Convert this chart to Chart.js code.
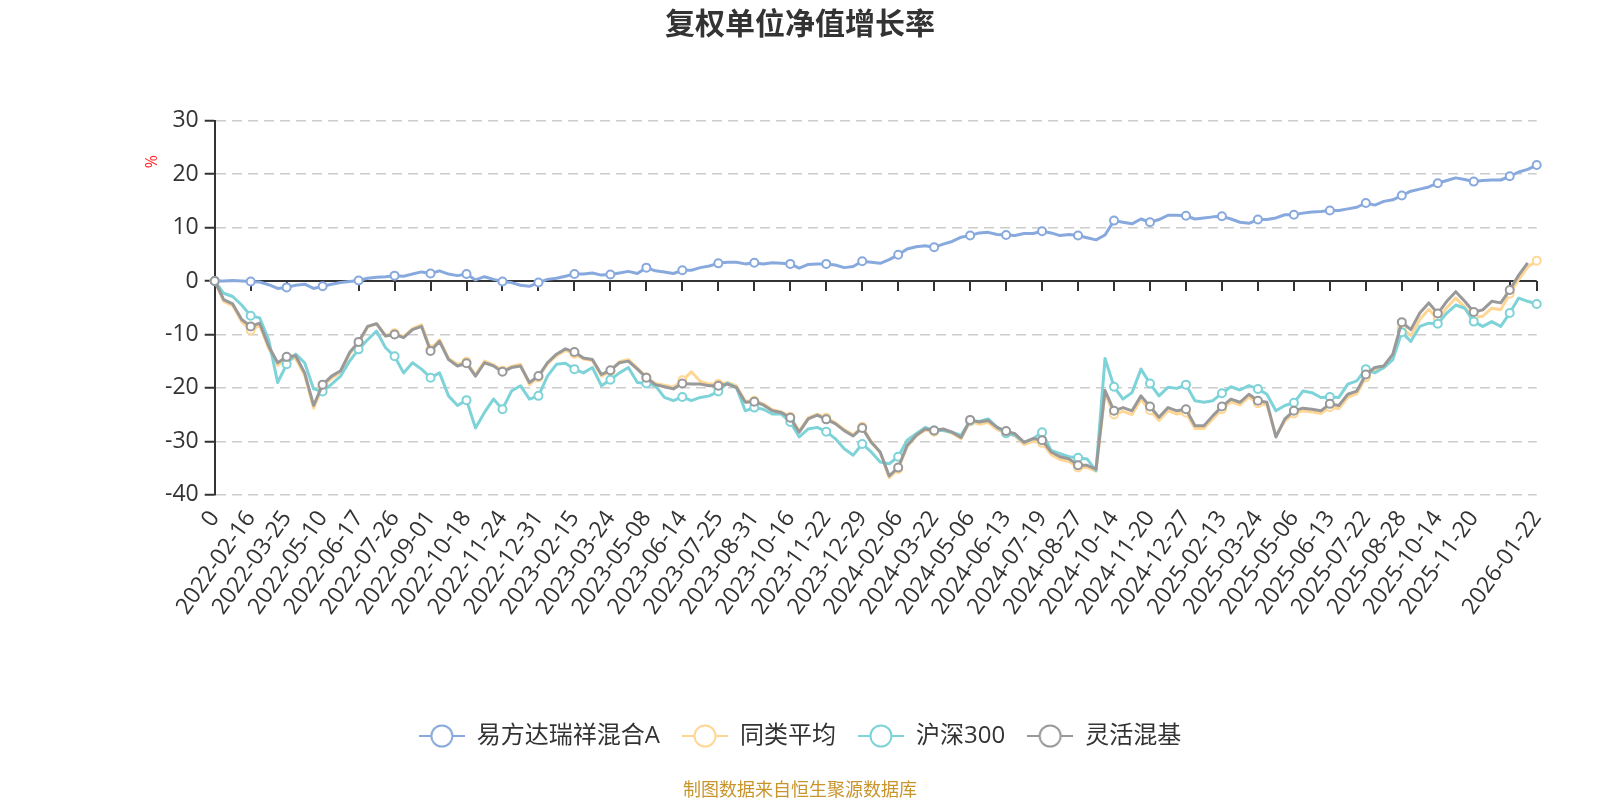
<!DOCTYPE html>
<html>
<head>
<meta charset="utf-8">
<title>复权单位净值增长率</title>
<script src="https://cdn.jsdelivr.net/npm/chart.js@4.4.1/dist/chart.umd.min.js"></script>
<style>
  html, body { margin: 0; padding: 0; background: #fff; }
  #wrap { width: 1600px; height: 800px; }
</style>
</head>
<body>
<div id="wrap"><canvas id="navChart" width="1600" height="800"></canvas></div>
<script>
// x-axis tick labels: one every 4 samples, the last one sits on the final sample
const tickLabels = [
  '0', '2022-02-16', '2022-03-25', '2022-05-10', '2022-06-17', '2022-07-26', '2022-09-01',
  '2022-10-18', '2022-11-24', '2022-12-31', '2023-02-15', '2023-03-24', '2023-05-08',
  '2023-06-14', '2023-07-25', '2023-08-31', '2023-10-16', '2023-11-22', '2023-12-29',
  '2024-02-06', '2024-03-22', '2024-05-06', '2024-06-13', '2024-07-19', '2024-08-27',
  '2024-10-14', '2024-11-20', '2024-12-27', '2025-02-13', '2025-03-24', '2025-05-06',
  '2025-06-13', '2025-07-22', '2025-08-28', '2025-10-14', '2025-11-20', ''
];
const lastLabel = '2026-01-22';

const yTicks = [-40, -30, -20, -10, 0, 10, 20, 30];

// 易方达瑞祥混合A (%)
const fundA = [
  0, 0, 0.1, 0, -0.1, -0.2, -0.7, -1.4, -1.2, -0.8,
  -0.6, -1.4, -1.0, -0.6, -0.3, -0.1, 0.1, 0.5, 0.7, 0.8,
  1.0, 0.9, 1.3, 1.7, 1.4, 1.9, 1.3, 1.0, 1.3, 0.2,
  0.8, 0.3, -0.1, -0.3, -0.8, -1.0, -0.3, 0.3, 0.5, 0.9,
  1.3, 1.3, 1.5, 1.1, 1.2, 1.5, 1.8, 1.4, 2.5, 1.9,
  1.7, 1.4, 2.0, 2.0, 2.5, 2.8, 3.3, 3.5, 3.5, 3.2,
  3.4, 3.2, 3.4, 3.3, 3.2, 2.4, 3.1, 3.2, 3.2, 3.0,
  2.5, 2.7, 3.7, 3.5, 3.3, 4.0, 4.9, 6.0, 6.4, 6.6,
  6.3, 6.9, 7.4, 8.2, 8.5, 9.0, 9.1, 8.7, 8.6, 8.5,
  8.9, 8.9, 9.3, 9.0, 8.5, 8.7, 8.5, 8.1, 7.7, 8.6,
  11.3, 11.0, 10.7, 11.6, 11.0, 11.5, 12.3, 12.3, 12.2, 11.6,
  11.8, 12.0, 12.1, 11.6, 11.0, 10.8, 11.5, 11.5, 11.8, 12.4,
  12.4, 12.7, 12.9, 13.0, 13.2, 13.2, 13.5, 13.8, 14.6, 14.2,
  14.9, 15.2, 16.0, 16.8, 17.2, 17.6, 18.3, 18.8, 19.3, 19.0,
  18.6, 18.8, 18.9, 18.9, 19.6, 20.4, 20.9, 21.7
];

// 同类平均 (%)
const peerAvg = [
  0, -3.8, -4.6, -7.6, -9.2, -8.3, -12.6, -15.8, -14.6, -14.5,
  -17.6, -23.8, -19.8, -18.2, -17.1, -13.7, -11.6, -8.6, -8.0, -10.2,
  -9.8, -10.4, -8.9, -8.2, -12.8, -11.0, -14.5, -15.6, -15.1, -17.6,
  -15.0, -15.7, -16.8, -16.0, -15.6, -19.4, -18.0, -15.5, -14.0, -13.0,
  -13.6, -14.6, -14.9, -17.8, -16.9, -15.1, -14.7, -16.3, -18.0, -19.2,
  -19.5, -19.9, -18.6, -17.0, -18.8, -19.3, -19.3, -19.0, -19.6, -22.5,
  -22.4, -23.0, -24.1, -24.5, -25.4, -28.1, -25.6, -24.9, -25.6, -26.5,
  -27.8, -28.8, -27.3, -30.0, -32.1, -36.8, -35.2, -31.0, -29.0, -27.9,
  -28.2, -27.9, -28.5, -29.5, -26.3, -26.8, -26.5, -27.8, -28.5, -29.0,
  -30.6, -30.0, -30.3, -32.5, -33.4, -33.8, -34.9, -34.9, -35.6, -21.0,
  -25.0, -24.4, -25.0, -22.2, -24.2, -26.1, -24.3, -24.9, -24.6, -27.6,
  -27.6, -25.8, -24.0, -22.6, -23.2, -21.7, -22.9, -23.2, -29.0, -26.2,
  -24.8, -24.3, -24.5, -24.8, -23.6, -23.9, -21.8, -21.1, -18.0, -16.6,
  -16.3, -14.3, -8.8, -10.2, -7.2, -5.3, -7.2, -5.0, -3.2, -4.9,
  -6.8, -6.6, -5.1, -5.4, -2.4, 0.3, 2.6, 3.8
];

// 沪深300 (%)
const csi300 = [
  0, -2.3, -2.9, -4.5, -6.5, -6.9, -11.0, -19.0, -15.6, -13.7,
  -15.3, -20.2, -20.7, -19.3, -17.8, -15.0, -12.8, -11.0, -9.4, -12.5,
  -14.1, -17.2, -15.3, -16.5, -18.1, -17.2, -21.5, -23.3, -22.3, -27.5,
  -24.6, -22.1, -24.0, -20.6, -19.6, -22.1, -21.5, -17.8, -15.6, -15.4,
  -16.5, -17.2, -16.2, -19.6, -18.5, -17.2, -16.2, -19.0, -19.2, -19.6,
  -21.8, -22.4, -21.7, -22.4, -21.8, -21.5, -20.7, -19.1, -19.9, -24.3,
  -23.7, -24.0, -24.9, -24.9, -26.4, -29.2, -27.7, -27.4, -28.2, -29.5,
  -31.4, -32.6, -30.5, -32.0, -33.9, -34.2, -32.9, -29.8, -28.6, -27.4,
  -28.0, -28.0, -28.3, -28.9, -26.1, -26.3, -25.8, -27.4, -28.5, -28.9,
  -30.2, -29.5, -28.3, -31.7, -32.3, -32.9, -33.1, -33.3, -35.5, -14.5,
  -19.8, -22.1, -20.9, -16.5, -19.2, -21.5, -19.9, -20.1, -19.4, -22.4,
  -22.7, -22.4, -21.0, -19.8, -20.4, -19.6, -20.2, -21.2, -24.3, -23.3,
  -22.8, -20.6, -20.9, -21.8, -21.7, -21.8, -19.3, -18.7, -16.5, -17.2,
  -16.2, -14.7, -9.6, -11.3, -8.5, -7.9, -8.0, -6.0, -4.5, -5.1,
  -7.6, -8.5, -7.6, -8.5, -6.0, -3.2, -3.8, -4.3
];

// 灵活混基 (%)
const flexMix = [
  0, -3.5, -4.3, -7.2, -8.5, -7.9, -12.2, -15.3, -14.2, -14.0,
  -17.2, -23.3, -19.4, -17.8, -16.8, -13.4, -11.4, -8.5, -8.0, -10.3,
  -10.0, -10.6, -9.1, -8.5, -13.1, -11.3, -14.7, -15.9, -15.4, -17.8,
  -15.3, -15.9, -17.0, -16.2, -15.9, -19.0, -17.8, -15.3, -13.7, -12.7,
  -13.3, -14.4, -14.7, -17.5, -16.7, -15.3, -15.0, -16.5, -18.1, -19.4,
  -19.8, -20.2, -19.2, -19.3, -19.3, -19.6, -19.6, -19.3, -19.9, -22.7,
  -22.6, -23.2, -24.3, -24.6, -25.6, -28.3, -25.8, -25.1, -25.9, -26.7,
  -28.0, -29.0, -27.5, -30.2, -32.0, -36.5, -34.9, -30.8, -28.9, -27.7,
  -28.0, -27.7, -28.3, -29.3, -26.0, -26.4, -26.1, -27.4, -28.1, -28.6,
  -30.2, -29.5, -29.8, -32.0, -32.9, -33.3, -34.5, -34.5, -35.2, -20.5,
  -24.3, -23.7, -24.3, -21.5, -23.5, -25.5, -23.7, -24.3, -24.0, -27.1,
  -27.1, -25.2, -23.5, -22.1, -22.7, -21.2, -22.4, -22.7, -29.2, -25.8,
  -24.3, -23.8, -24.0, -24.3, -23.0, -23.3, -21.2, -20.6, -17.5, -16.2,
  -15.9, -13.7, -7.7, -9.1, -6.0, -4.1, -6.1, -3.8, -2.0, -3.8,
  -5.8, -5.4, -3.8, -4.1, -1.7, 1.1, 3.4, null
];

const seriesNames = ['易方达瑞祥混合A', '同类平均', '沪深300', '灵活混基'];
const seriesColors = ['#88a9de', '#ffd694', '#7dd3d8', '#999999'];

const STEP = 4;                     // samples between labelled ticks
const lastIndex = fundA.length - 1;

// sparse category labels
const labels = fundA.map(() => '');
tickLabels.forEach((t, k) => { labels[k * STEP] = t; });
labels[lastIndex] = lastLabel;

const markerIdx = i => i % STEP === 0 || i === lastIndex;

// legend icon: short line with a hollow circle
function makeIcon(color) {
  const c = document.createElement('canvas');
  c.width = 46; c.height = 26;
  const g = c.getContext('2d');
  g.strokeStyle = color;
  g.lineWidth = 2;
  g.beginPath(); g.moveTo(0, 13); g.lineTo(46, 13); g.stroke();
  g.beginPath(); g.arc(23, 13, 10.5, 0, Math.PI * 2);
  g.fillStyle = '#fff'; g.fill(); g.stroke();
  return c;
}
const icons = seriesColors.map(makeIcon);

// solid axis line on y = 0 with its ticks, plus the unit label
const zeroAxis = {
  id: 'zeroAxis',
  beforeDatasetsDraw(chart) {
    const { ctx, chartArea, scales: { x, y } } = chart;
    const y0 = Math.round(y.getPixelForValue(0));
    ctx.save();
    ctx.strokeStyle = '#333';
    ctx.lineWidth = 2;
    ctx.beginPath();
    ctx.moveTo(chartArea.left, y0);
    ctx.lineTo(chartArea.right, y0);
    labels.forEach((l, i) => {
      if (!markerIdx(i)) return;
      const px = Math.round(x.getPixelForValue(i));
      ctx.moveTo(px, y0);
      ctx.lineTo(px, y0 + 10);
    });
    ctx.stroke();
    ctx.translate(chartArea.left - 62, chartArea.top + 41);
    ctx.rotate(-Math.PI / 2);
    ctx.fillStyle = '#ff2a2a';
    ctx.font = '16px "Open Sans"';
    ctx.textAlign = 'center';
    ctx.textBaseline = 'middle';
    ctx.fillText('%', 0, 0);
    ctx.restore();
  }
};

const seriesData = [fundA, peerAvg, csi300, flexMix];
const drawOrder = [3, 2, 1, 0];   // grey line ends up on top

Chart.defaults.font.family = "'Open Sans', 'Noto Sans CJK SC', sans-serif";
Chart.defaults.color = '#333';

new Chart(document.getElementById('navChart'), {
  type: 'line',
  data: {
    labels: labels,
    datasets: seriesData.map((d, k) => ({
      label: seriesNames[k],
      data: d,
      order: drawOrder[k],
      borderColor: seriesColors[k],
      borderWidth: 3,
      borderJoinStyle: 'round',
      tension: 0,
      pointRadius: c => markerIdx(c.dataIndex) ? 4 : 0,
      pointHoverRadius: c => markerIdx(c.dataIndex) ? 4 : 0,
      pointBackgroundColor: '#fff',
      pointBorderColor: seriesColors[k],
      pointBorderWidth: 2
    }))
  },
  options: {
    responsive: false,
    animation: false,
    devicePixelRatio: 1,
    layout: { padding: 0 },
    scales: {
      x: {
        type: 'category',
        ticks: {
          autoSkip: false,
          minRotation: 55,
          maxRotation: 55,
          padding: 11,
          color: '#333',
          font: { size: 23 }
        },
        grid: { display: false, drawTicks: false },
        border: { display: false },
        afterFit: s => { s.height = 207.3; }
      },
      y: {
        min: yTicks[0],
        max: yTicks[yTicks.length - 1],
        afterBuildTicks: s => { s.ticks = yTicks.map(v => ({ value: v })); },
        ticks: { color: '#333', font: { size: 23 }, padding: 6 },
        grid: {
          color: c => c.tick && c.tick.value === 0 ? 'rgba(0,0,0,0)' : '#cccccc',
          lineWidth: 1.5,
          tickColor: '#333',
          tickWidth: 2,
          tickLength: 10,
          tickBorderDash: []
        },
        border: { display: true, color: '#333', width: 2, dash: [10, 6] },
        afterFit: s => { s.width = 214.7; }
      },
      // empty spacer on the right so title and legend stay centred on the page
      spacer: {
        type: 'linear',
        position: 'right',
        display: true,
        ticks: { display: false },
        grid: { display: false, drawTicks: false },
        border: { display: false },
        afterFit: s => { s.width = 63.3; }
      }
    },
    plugins: {
      title: {
        display: true,
        text: '复权单位净值增长率',
        color: '#333',
        font: { size: 30, weight: 'bold', family: "'Noto Sans CJK SC', sans-serif" },
        padding: { top: 4.5, bottom: 80.2 }
      },
      subtitle: {
        display: true,
        position: 'bottom',
        text: '制图数据来自恒生聚源数据库',
        color: '#c8952c',
        font: { size: 18, family: "'Noto Sans CJK SC', sans-serif" },
        padding: { top: 20.4, bottom: 0 }
      },
      legend: {
        position: 'bottom',
        labels: {
          usePointStyle: true,
          pointStyleWidth: 46,
          boxHeight: 24,
          padding: 22,
          color: '#333',
          font: { size: 24 },
          generateLabels: chart => chart.data.datasets.map((ds, i) => ({
            text: ds.label,
            pointStyle: icons[i],
            fillStyle: '#fff',
            strokeStyle: seriesColors[i],
            lineWidth: 0,
            fontColor: '#333',
            hidden: false,
            datasetIndex: i
          }))
        }
      },
      tooltip: { enabled: false }
    }
  },
  plugins: [zeroAxis]
});
</script>
</body>
</html>
